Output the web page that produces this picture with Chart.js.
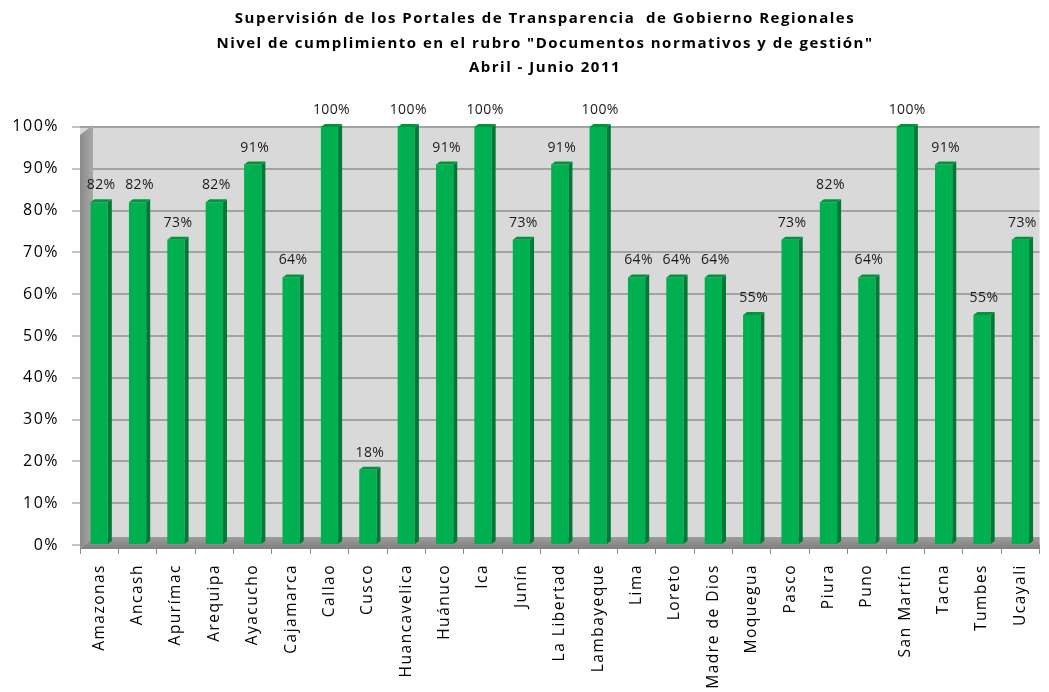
<!DOCTYPE html>
<html>
<head>
<meta charset="utf-8">
<script src="https://cdn.jsdelivr.net/npm/chart.js@4"></script>
<style>
  body { margin: 0; background: #fff; }
  #wrap { width: 1049px; height: 692px; }
</style>
</head>
<body>
<div id="wrap"><canvas id="chart"></canvas></div>
<script>
const categories = ['Amazonas', 'Ancash', 'Apurímac', 'Arequipa', 'Ayacucho', 'Cajamarca', 'Callao', 'Cusco',
  'Huancavelica', 'Huánuco', 'Ica', 'Junín', 'La Libertad', 'Lambayeque', 'Lima', 'Loreto', 'Madre de Dios',
  'Moquegua', 'Pasco', 'Piura', 'Puno', 'San Martín', 'Tacna', 'Tumbes', 'Ucayali'];
const values = [82, 82, 73, 82, 91, 64, 100, 18, 100, 91, 100, 73, 91, 100, 64, 64, 64, 55, 73, 82, 64, 100, 91, 55, 73];
const titleLines = ['Supervisión de los Portales de Transparencia  de Gobierno Regionales',
  'Nivel de cumplimiento en el rubro "Documentos normativos y de gestión"',
  'Abril - Junio 2011'];

const FONT = '"Open Sans", sans-serif';

// the original text is set wide, so spread the letters a little
const spacing = {
  id: 'spacing',
  beforeUpdate(chart) { chart.ctx.letterSpacing = '1.5px'; },
  beforeDraw(chart) { chart.ctx.letterSpacing = '1.5px'; },
  // title in the original sits a bit right of the page centre
  afterLayout(chart) { if (chart.titleBlock) chart.titleBlock.left = 41; }
};

// gray 3D walls behind the bars
const walls = {
  id: 'walls',
  beforeDraw(chart) {
    const { ctx, chartArea: a } = chart;
    ctx.save();
    ctx.fillStyle = '#D9D9D9';
    ctx.fillRect(a.left, a.top, a.right - a.left, a.bottom - a.top);
    ctx.restore();
  },
  beforeDatasetsDraw(chart) {
    const { ctx, chartArea: a } = chart;
    ctx.save();
    // left wall
    let g = ctx.createLinearGradient(a.left, 0, a.left + 13, 0);
    g.addColorStop(0, '#8A8A8A');
    g.addColorStop(1, '#A8A8A8');
    ctx.fillStyle = g;
    ctx.beginPath();
    ctx.moveTo(a.left, a.top + 8);
    ctx.lineTo(a.left + 13, a.top - 2);
    ctx.lineTo(a.left + 13, a.bottom - 8);
    ctx.lineTo(a.left, a.bottom + 4);
    ctx.closePath();
    ctx.fill();
    // floor
    g = ctx.createLinearGradient(0, a.bottom - 8, 0, a.bottom + 4);
    g.addColorStop(0, '#9C9C9C');
    g.addColorStop(1, '#7F7F7F');
    ctx.fillStyle = g;
    ctx.beginPath();
    ctx.moveTo(a.left + 13, a.bottom - 8);
    ctx.lineTo(a.right, a.bottom - 8);
    ctx.lineTo(a.right, a.bottom + 4);
    ctx.lineTo(a.left, a.bottom + 4);
    ctx.closePath();
    ctx.fill();
    ctx.restore();
  }
};

// side and top faces of each bar, plus value labels
const bars3d = {
  id: 'bars3d',
  afterDatasetsDraw(chart) {
    const { ctx } = chart;
    const meta = chart.getDatasetMeta(0);
    ctx.save();
    meta.data.forEach((bar, i) => {
      const { x, y, base, width } = bar.getProps(['x', 'y', 'base', 'width'], true);
      const r = x + width / 2, l = x - width / 2, dx = 4, dy = 3;
      ctx.fillStyle = '#007A35';
      ctx.beginPath();
      ctx.moveTo(r, y);
      ctx.lineTo(r + dx, y - dy);
      ctx.lineTo(r + dx, base - dy);
      ctx.lineTo(r, base);
      ctx.closePath();
      ctx.fill();
      ctx.fillStyle = '#00943F';
      ctx.beginPath();
      ctx.moveTo(l, y);
      ctx.lineTo(l + dx, y - dy);
      ctx.lineTo(r + dx, y - dy);
      ctx.lineTo(r, y);
      ctx.closePath();
      ctx.fill();
      ctx.letterSpacing = '0.4px';
      ctx.fillStyle = '#1A1A1A';
      ctx.font = '14px ' + FONT;
      ctx.textAlign = 'center';
      ctx.textBaseline = 'middle';
      ctx.fillText(values[i] + '%', x + 2, y - 17);
    });
    ctx.restore();
  }
};

new Chart(document.getElementById('chart'), {
  type: 'bar',
  data: {
    labels: categories,
    datasets: [{
      data: values,
      backgroundColor: '#00B050',
      borderWidth: 0,
      barPercentage: 0.45,
      categoryPercentage: 1
    }]
  },
  options: {
    responsive: true,
    maintainAspectRatio: false,
    animation: false,
    layout: { padding: 0 },
    plugins: {
      legend: { display: false },
      tooltip: { enabled: false },
      title: {
        display: true,
        text: titleLines,
        color: '#000',
        font: { family: FONT, size: 15, weight: 'bold', lineHeight: 1.62 },
        padding: { top: 7, bottom: 47 }
      }
    },
    scales: {
      x: {
        afterFit: s => { s.height = 147; },
        grid: { display: true, drawOnChartArea: false, color: '#8C8C8C', tickLength: 9, offset: true },
        border: { display: false },
        ticks: {
          color: '#000',
          font: { family: FONT, size: 15.5 },
          minRotation: 90,
          maxRotation: 90,
          autoSkip: false,
          padding: 10
        }
      },
      y: {
        afterFit: s => { s.width = 80; },
        min: 0,
        max: 100,
        grid: { color: '#A3A3A3', lineWidth: 2, tickLength: 8, tickColor: '#8C8C8C', tickWidth: 1 },
        border: { display: false },
        ticks: {
          stepSize: 10,
          color: '#000',
          font: { family: FONT, size: 16 },
          padding: 13,
          callback: v => v + '%'
        }
      }
    }
  },
  plugins: [spacing, walls, bars3d]
});
</script>
</body>
</html>
